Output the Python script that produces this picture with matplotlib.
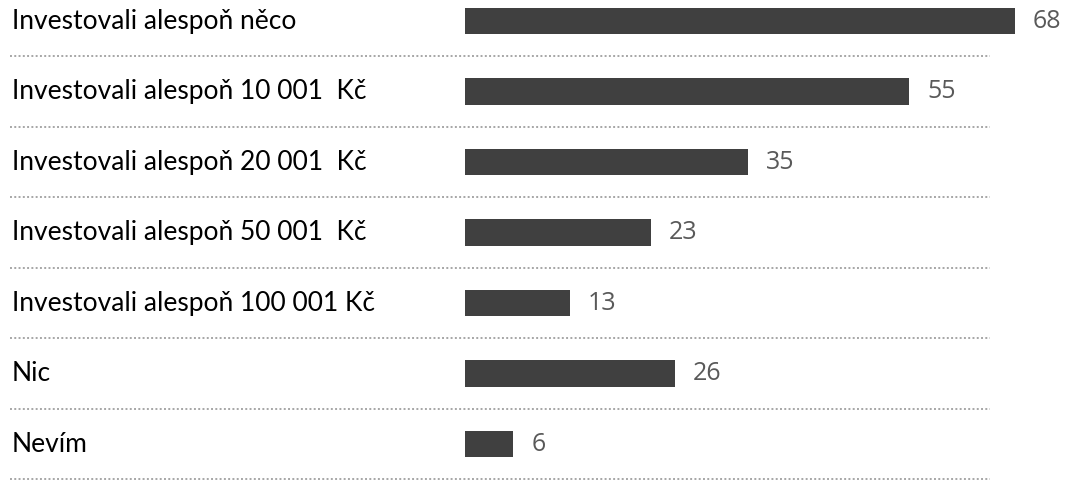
import matplotlib.pyplot as plt

# categories and values
labels = [
    "Investovali alespoň něco",
    "Investovali alespoň 10 001  Kč",
    "Investovali alespoň 20 001  Kč",
    "Investovali alespoň 50 001  Kč",
    "Investovali alespoň 100 001 Kč",
    "Nic",
    "Nevím",
]
values = [68, 55, 35, 23, 13, 26, 6]

W, H = 1066, 480
fig = plt.figure(figsize=(W / 100, H / 100), dpi=100)

# bar area starts at ~465 px
left_px, width_px = 465, 598
ax = fig.add_axes([left_px / W, 0, width_px / W, 1])

ypos = list(range(len(values)))
ax.barh(ypos, values, height=0.37, color="#404040")
ax.set_xlim(0, 74)
ax.set_ylim(6.51, -0.298)
ax.axis("off")

for y, v, lab in zip(ypos, values, labels):
    ax.text(v + 2.2, y, str(v), va="center", ha="left",
            fontsize=18, color="#595959", family="Open Sans")
    fig.text(12 / W, ax.transData.transform((0, y))[1] / H, lab,
             va="center", ha="left", fontsize=19, color="black", family="Lato")
    # dotted separator below each row
    ax.axhline(y + 0.5, xmin=(10 - left_px) / width_px,
               xmax=(990 - left_px) / width_px, color="#a6a6a6",
               lw=1.4, linestyle=(0, (1, 1.2)), clip_on=False)

fig.savefig("out.png", dpi=100)
